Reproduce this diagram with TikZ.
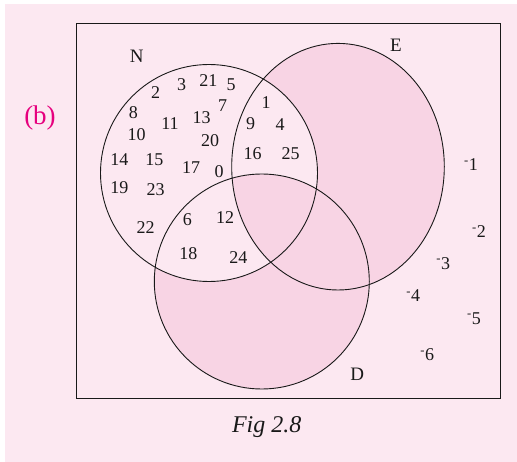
\documentclass[tikz,border=0pt]{standalone}
\usepackage{tikz}
\usepackage{fontspec}
\setmainfont{Liberation Serif}
\definecolor{bgpink}{RGB}{252,232,241}
\definecolor{shadepink}{RGB}{248,212,228}
\definecolor{magentab}{RGB}{230,0,126}
\tikzset{
  num/.style={font=\fontsize{18}{19}\selectfont, text=black!90, inner sep=0pt},
  setlabel/.style={font=\fontsize{19}{20}\selectfont, text=black!90, inner sep=0pt},
  outline/.style={draw=black!90, line width=0.9pt},
}
\begin{document}
\begin{tikzpicture}[x=1pt,y=-1pt]
\useasboundingbox (0,0) rectangle (517,462);
\fill[white] (0,0) rectangle (517,462);
\fill[bgpink] (5,4) rectangle (517,462);
% shaded regions
\fill[shadepink] (338,166.7) ellipse [x radius=106.3, y radius=123.3];
\fill[shadepink] (261.8,281.5) circle [radius=107.5];
\fill[bgpink] (209,173) circle [radius=108.5];
\begin{scope}
  \clip (338,166.7) ellipse [x radius=106.3, y radius=123.3];
  \clip (261.8,281.5) circle [radius=107.5];
  \fill[shadepink] (209,173) circle [radius=108.5];
\end{scope}
% outlines
\draw[outline] (76.7,23.3) rectangle (500,398.7);
\draw[outline] (209,173) circle [radius=108.5];
\draw[outline] (338,166.7) ellipse [x radius=106.3, y radius=123.3];
\draw[outline] (261.8,281.5) circle [radius=107.5];
% labels
\node[setlabel] (N) at (136.7,56.7) {N};
\node[setlabel] (E) at (396,45) {E};
\node[setlabel] (D) at (357.3,374.3) {D};
\node[font=\fontsize{27}{29}\selectfont, text=magentab, inner sep=0pt] (b) at (40,118) {(b)};
\node[font=\fontsize{24}{26}\selectfont\itshape, text=black!90, inner sep=0pt] (cap) at (266.7,426.7) {Fig 2.8};
% numbers
\node[num] (n2) at (155.7,92.7) {2};
\node[num] (n3) at (181.7,85) {3};
\node[num] (n21) at (208.3,81) {21};
\node[num] (n5) at (231,84.3) {5};
\node[num] (n7) at (222.7,106) {7};
\node[num] (n8) at (133.3,112.7) {8};
\node[num] (n11) at (170,124) {11};
\node[num] (n13) at (201.7,117.3) {13};
\node[num] (n10) at (136.7,135) {10};
\node[num] (n20) at (210,140.7) {20};
\node[num] (n14) at (119.3,160) {14};
\node[num] (n15) at (154.3,160) {15};
\node[num] (n17) at (191,167.7) {17};
\node[num] (n0) at (219,171.7) {0};
\node[num] (n19) at (119.3,187.7) {19};
\node[num] (n23) at (155.7,189.3) {23};
\node[num] (n22) at (145.7,227.3) {22};
\node[num] (n6) at (187.3,220) {6};
\node[num] (n12) at (225,217.3) {12};
\node[num] (n18) at (188.3,253.3) {18};
\node[num] (n24) at (238.3,257.7) {24};
\node[num] (n1) at (266,102.3) {1};
\node[num] (n9) at (250.7,124) {9};
\node[num] (n4) at (280,124.3) {4};
\node[num] (n16) at (252.7,153.3) {16};
\node[num] (n25) at (290.7,153.3) {25};
\node[num] (m1) at (471,165) {\textsuperscript{-}1};
\node[num] (m2) at (479,231.7) {\textsuperscript{-}2};
\node[num] (m3) at (443.3,263.3) {\textsuperscript{-}3};
\node[num] (m4) at (413.3,296) {\textsuperscript{-}4};
\node[num] (m5) at (474,318.3) {\textsuperscript{-}5};
\node[num] (m6) at (427.3,355) {\textsuperscript{-}6};
\end{tikzpicture}
\end{document}
